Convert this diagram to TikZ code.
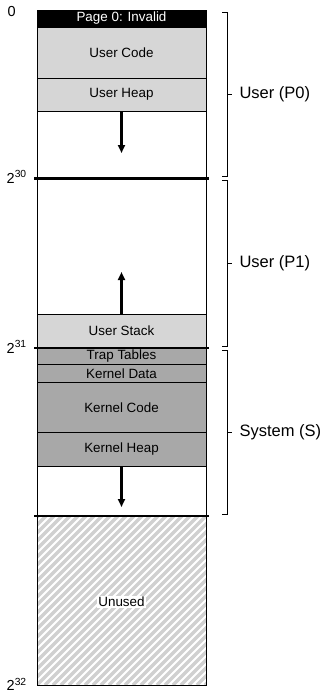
\documentclass[tikz,border=0pt]{standalone}
\usepackage{fontspec}
\setmainfont{Liberation Sans}
\usetikzlibrary{arrows.meta}
\definecolor{lightseg}{HTML}{D6D6D6}
\definecolor{darkseg}{HTML}{A8A8A8}
\definecolor{hatchc}{HTML}{D0D0D0}
\newcommand{\expo}[1]{\raisebox{5.3pt}{\fontsize{10.3}{11}\selectfont #1}}
\begin{document}
\begin{tikzpicture}[x=1pt,y=-1pt,
  seg/.style={draw=black, line width=1pt, minimum width=169pt, inner sep=0pt, outer sep=0pt, font=\fontsize{13.4}{14}\selectfont},
  usr/.style={seg, fill=lightseg},
  krn/.style={seg, fill=darkseg},
  bound/.style={line width=2.6pt},
  growarrow/.style={line width=2.2pt, -{Triangle[length=8pt,width=7pt]}},
  brk/.style={line width=0.9pt},
  side/.style={anchor=west, font=\fontsize{16.5}{18}\selectfont},
  addr/.style={anchor=base west, inner sep=0pt, font=\fontsize{14.5}{15}\selectfont},
]
\useasboundingbox (0,0) rectangle (322,694);
% hatched unused region
\begin{scope}
  \clip (37,516) rectangle (206,685);
  \foreach \i in {-200,-192,...,200} {
    \draw[hatchc, line width=3.2pt] (37+\i,685) -- (37+\i+169,516);
  }
\end{scope}
% outer frame
\draw[line width=1pt] (37,10) rectangle (206,685);
% segments
\node[seg, fill=black, text=white, minimum height=17pt] (page0) at (121.5,18.5) {Page 0: Invalid};
\node[usr, minimum height=51pt] (ucode) at (121.5,52.5) {User Code};
\node[usr, minimum height=33pt] (uheap) at (121.5,94.5) {User Heap};
\node[usr, minimum height=34pt] (ustack) at (121.5,331) {User Stack};
\node[krn, minimum height=16.5pt] (trap) at (121.5,356.25) {Trap Tables};
\node[krn, minimum height=17.5pt] (kdata) at (121.5,373.25) {Kernel Data};
\node[krn, minimum height=50.5pt] (kcode) at (121.5,407.25) {Kernel Code};
\node[krn, minimum height=33.5pt] (kheap) at (121.5,449.25) {Kernel Heap};
\node[fill=white, inner sep=1pt, font=\fontsize{13.4}{14}\selectfont] (unused) at (121.5,602) {Unused};
% boundaries
\coordinate (b30l) at (34,178.5); \coordinate (b30r) at (209,178.5);
\coordinate (b31l) at (34,348); \coordinate (b31r) at (209,348);
\coordinate (bsl) at (34,516); \coordinate (bsr) at (209,516);
\draw[bound] (b30l) -- (b30r);
\draw[bound] (b31l) -- (b31r);
\draw[bound] (bsl) -- (bsr);
% growth arrows
\coordinate (heapend) at (121.5,153);
\coordinate (stackend) at (121.5,272);
\coordinate (kheapend) at (121.5,507);
\draw[growarrow] (uheap.south) -- (heapend);
\draw[growarrow] (ustack.north) -- (stackend);
\draw[growarrow] (kheap.south) -- (kheapend);
% address labels
\node[addr] (a0) at (7.5,16.5) {0};
\node[addr] (a30) at (6.5,183) {2\expo{30}};
\node[addr] (a31) at (6.5,353) {2\expo{31}};
\node[addr] (a32) at (6.5,690.5) {2\expo{32}};
% brackets
\draw[brk] (222,12) -- (227,12) -- (227,176) -- (222,176);
\draw[brk] (227,94) -- (232,94);
\node[side] (p0) at (236,94) {User (P0)};
\draw[brk] (222,180) -- (227,180) -- (227,346) -- (222,346);
\draw[brk] (227,263) -- (232,263);
\node[side] (p1) at (236,263) {User (P1)};
\draw[brk] (222,350) -- (227,350) -- (227,514) -- (222,514);
\draw[brk] (227,432) -- (232,432);
\node[side] (sys) at (236,432) {System (S)};
\end{tikzpicture}
\end{document}
